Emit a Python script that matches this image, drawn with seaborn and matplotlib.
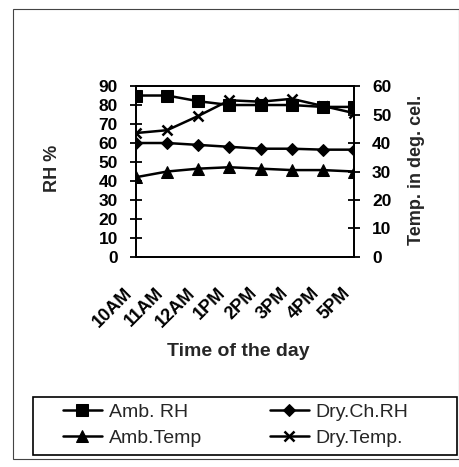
import numpy as np
import pandas as pd
import matplotlib
matplotlib.use('Agg')
import matplotlib.pyplot as plt
import matplotlib.transforms as mtransforms
from matplotlib.patches import Rectangle
import seaborn as sns

# --- DATA ---
times = ['10AM', '11AM', '12AM', '1PM', '2PM', '3PM', '4PM', '5PM']
amb_rh = [85, 85, 82, 80, 80, 80, 79, 79]
dry_ch_rh = [60, 60, 59, 58, 57, 57, 56.5, 56.5]
amb_temp = [28, 30, 31, 31.5, 31, 30.5, 30.5, 30]
dry_temp = [43.5, 44.5, 49.5, 55, 54.5, 55.5, 53, 50.5]

df = pd.DataFrame({'pos': np.arange(len(times)), 'time': times,
                   'Amb. RH': amb_rh, 'Dry.Ch.RH': dry_ch_rh,
                   'Amb.Temp': amb_temp, 'Dry.Temp.': dry_temp})

sns.set_style('white')
plt.rcParams['font.family'] = ['Liberation Sans', 'DejaVu Sans']

fig = plt.figure(figsize=(4.6, 4.67), dpi=100)
ax = fig.add_axes([0.2957, 0.4497, 0.4739, 0.3661])
ax2 = ax.twinx()

# --- series ---
lw = 1.8
common = dict(color='black', lw=lw, linestyle='-', markeredgecolor='black', legend=False)
sns.lineplot(data=df, x='pos', y='Amb. RH', ax=ax, marker='s', markersize=8,
             label='Amb. RH', **common)
sns.lineplot(data=df, x='pos', y='Dry.Ch.RH', ax=ax, marker='D', markersize=6,
             label='Dry.Ch.RH', **common)
sns.lineplot(data=df, x='pos', y='Amb.Temp', ax=ax2, marker='^', markersize=8.5,
             label='Amb.Temp', **common)
sns.lineplot(data=df, x='pos', y='Dry.Temp.', ax=ax2, marker='x', markersize=7.5,
             markeredgewidth=1.8, label='Dry.Temp.', **common)

# --- axes ---
ax.set_xlim(0, len(times) - 1)
ax.set_ylim(0, 90)
ax2.set_ylim(0, 60)
ax.set_yticks(np.arange(0, 91, 10))
ax2.set_yticks(np.arange(0, 61, 10))
ax.set_xticks(df['pos'])
ax.set_xticklabels(times, rotation=45, ha='right', va='top', fontweight='bold', fontsize=13)
off = mtransforms.ScaledTranslation(-0.18, 0, fig.dpi_scale_trans)
for lab in ax.get_xticklabels():
    lab.set_transform(lab.get_transform() + off)

for a in (ax, ax2):
    for s in a.spines.values():
        s.set_color('black')
        s.set_linewidth(1.3)
    a.tick_params(direction='inout', length=8, width=1.3, colors='black', labelsize=12.5)
ax.tick_params(axis='x', pad=16, labelsize=13)
ax.tick_params(axis='y', pad=9)
ax2.tick_params(axis='y', pad=9)
for lab in ax.get_yticklabels() + ax2.get_yticklabels():
    lab.set_fontweight('bold')

ax.set_xlabel('Time of the day', fontsize=14, fontweight='bold', va='top')
ax.xaxis.set_label_coords(0.47, -0.505)
ax.set_ylabel('RH %', fontsize=13, fontweight='bold', va='center')
ax.yaxis.set_label_coords(-0.385, 0.52)
ax2.set_ylabel('Temp. in deg. cel.', fontsize=13, fontweight='bold', va='center')
ax2.yaxis.set_label_coords(1.285, 0.51)

# --- legend ---
h1, l1 = ax.get_legend_handles_labels()
h2, l2 = ax2.get_legend_handles_labels()
handles = [h1[0], h2[0], h1[1], h2[1]]
labels = [l1[0], l2[0], l1[1], l2[1]]
leg = fig.legend(handles, labels, ncol=2, loc='center left',
                 bbox_to_anchor=(63 / 460, 1 - 425 / 467),
                 frameon=False, fontsize=14, handlelength=2.0, handletextpad=0.35,
                 borderaxespad=0, labelspacing=0.45, borderpad=0, columnspacing=3.5)

fig.patches.append(Rectangle((33 / 460, 1 - 455 / 467), 424 / 460, 58 / 467,
                             transform=fig.transFigure, fill=False,
                             edgecolor='black', lw=1.2))
fig.patches.append(Rectangle((13 / 460, 1 - 459 / 467), 446 / 460, 450 / 467,
                             transform=fig.transFigure, fill=False,
                             edgecolor='#444444', lw=0.8))

fig.savefig('out.png', dpi=100)
